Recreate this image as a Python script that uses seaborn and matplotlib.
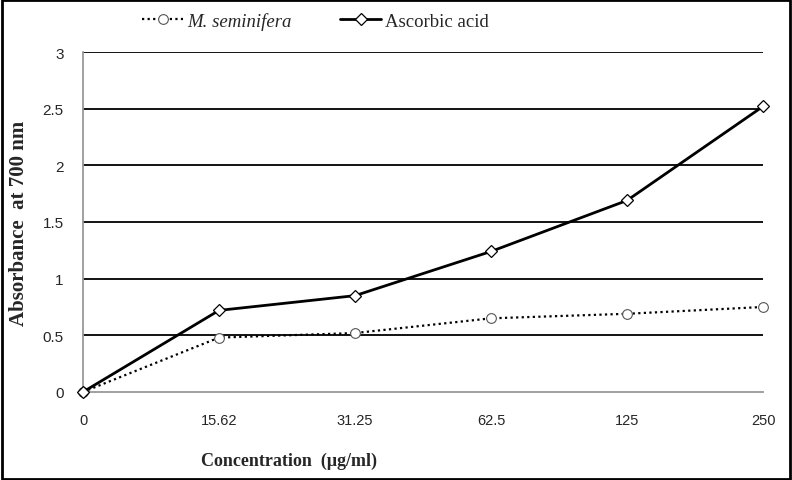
import matplotlib
matplotlib.use("Agg")
import matplotlib.pyplot as plt
import seaborn as sns
import pandas as pd
from matplotlib.patches import Rectangle
from matplotlib.lines import Line2D

sns.set_style("white")
plt.rcParams['font.family'] = ['Liberation Sans', 'DejaVu Sans']

# 数据
concentrations = ["0", "15.62", "31.25", "62.5", "125", "250"]
m_seminifera = [0.0, 0.48, 0.52, 0.65, 0.69, 0.75]
ascorbic_acid = [0.0, 0.72, 0.85, 1.24, 1.69, 2.52]
y_ticks = [0, 0.5, 1, 1.5, 2, 2.5, 3]
y_tick_labels = ["0", "0.5", "1", "1.5", "2", "2.5", "3"]

df = pd.DataFrame({
    "pos": list(range(len(concentrations))),
    "M. seminifera": m_seminifera,
    "Ascorbic acid": ascorbic_acid,
})

fig = plt.figure(figsize=(7.92, 4.81), dpi=100)
ax = fig.add_axes([0.1048, 0.183, 0.8586, 0.7068])

# 网格线
for yt in y_ticks[1:]:
    ax.axhline(yt, color="black", linewidth=1.3, zorder=1)

dot_style = dict(color="black", linestyle=(0, (1, 1.5)), linewidth=1.6, marker="o",
                 markersize=7, markerfacecolor="white", markeredgecolor="#555555",
                 markeredgewidth=0.8)
solid_style = dict(color="black", linestyle="-", linewidth=2.0, marker="D", markersize=6,
                   markerfacecolor="white", markeredgecolor="black", markeredgewidth=0.9)

sns.lineplot(data=df, x="pos", y="M. seminifera", ax=ax, zorder=3, clip_on=False, **dot_style)
sns.lineplot(data=df, x="pos", y="Ascorbic acid", ax=ax, zorder=4, clip_on=False, **solid_style)

ax.set_xlim(0, len(concentrations) - 1)
ax.set_ylim(0, 3)
ax.set_xticks(range(len(concentrations)))
ax.set_xticklabels(concentrations, fontsize=10.5)
ax.set_yticks(y_ticks)
ax.set_yticklabels(y_tick_labels, fontsize=11)
ax.tick_params(axis="x", length=0, pad=15)
ax.tick_params(axis="y", length=0, pad=14)

for s in ["top", "right"]:
    ax.spines[s].set_visible(False)
for s in ["left", "bottom"]:
    ax.spines[s].set_color("#999999")
    ax.spines[s].set_linewidth(1.3)

ax.set_xlabel("")
ax.set_ylabel("Absorbance  at 700 nm", fontsize=15, fontweight="bold",
              family="Liberation Serif", labelpad=10)
fig.text(289 / 792, 1 - 461 / 481, "Concentration  (μg/ml)", fontsize=13,
         fontweight="bold", family="Liberation Serif", ha="center", va="center")

handles = [Line2D([], [], **dot_style), Line2D([], [], **solid_style)]
leg = fig.legend(handles, ["M. seminifera", "Ascorbic acid"], loc="upper left",
                 bbox_to_anchor=(125 / 792, 1.008), ncol=2, frameon=False, handlelength=2.2,
                 columnspacing=2.6, handletextpad=0.2,
                 prop={"family": "Liberation Serif", "size": 13.5})
leg.get_texts()[0].set_fontstyle("italic")

# 外边框
fig.patches.append(Rectangle((0.002, 0.002), 0.996, 0.996, transform=fig.transFigure,
                             fill=False, edgecolor="black", linewidth=2))

fig.savefig("out.png", dpi=100)
